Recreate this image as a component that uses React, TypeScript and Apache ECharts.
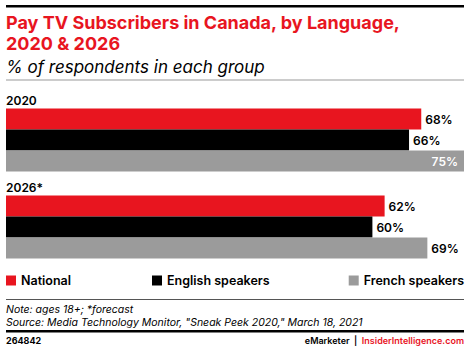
import React, { useEffect, useRef } from "react";
import * as echarts from "echarts";

const categories = ["2020", "2026*"];
const seriesNames = ["National", "English speakers", "French speakers"];
const national = [68, 62];
const english = [66, 60];
const french = [75, 69];
const colors = ["#e8151f", "#000000", "#9b9b9b"];

const FONT = "Inter, 'Noto Sans', Arial, sans-serif";

export default function App() {
  const ref = useRef<HTMLDivElement>(null);
  useEffect(() => {
    if (!ref.current) return;
    const chart = echarts.init(ref.current, null, { renderer: "svg" });
    const values = [national, english, french];
    const series = seriesNames.map((name, si) => ({
      name,
      type: "bar",
      barWidth: 21,
      barGap: "0%",
      itemStyle: { color: colors[si] },
      data: values[si].map((v) => {
        const inside = v >= 75;
        return {
          value: v,
          label: inside
            ? { position: "insideRight", color: "#ffffff", offset: [-2, 0] }
            : { position: "right", color: "#000000" },
        };
      }),
      label: {
        show: true,
        formatter: "{c}%",
        fontFamily: FONT,
        fontWeight: 600,
        fontSize: 12,
        distance: 4,
      },
    }));
    const option: any = {
      animation: false,
      textStyle: { fontFamily: FONT },
      grid: { left: 6, right: 6, top: 96.5, bottom: 80.5, containLabel: false },
      xAxis: { type: "value", min: 0, max: 75, show: false },
      yAxis: {
        type: "category",
        inverse: true,
        data: categories,
        axisLine: { show: false },
        axisTick: { show: false },
        axisLabel: {
          inside: true,
          margin: 0,
          align: "left",
          verticalAlign: "bottom",
          padding: [0, 0, 34, 0],
          color: "#000",
          fontFamily: FONT,
          fontWeight: 600,
          fontSize: 12,
        },
      },
      legend: seriesNames.map((n, i) => ({
        data: [n],
        top: 274,
        ...(i === 0 ? { left: 6 } : i === 1 ? { left: 152 } : { right: 6 }),
        itemWidth: 10,
        itemHeight: 10,
        itemGap: 6,
        icon: "rect",
        padding: 0,
        textStyle: { fontFamily: FONT, fontWeight: 600, fontSize: 12.5, color: "#000" },
        selectedMode: false,
      })),
      series,
      graphic: [
        { type: "rect", shape: { x: 6, y: 5, width: 458, height: 2.5 }, style: { fill: "#000" } },
        {
          type: "text",
          left: 6,
          top: 12,
          style: {
            text: "Pay TV Subscribers in Canada, by Language,\n2020 & 2026",
            fill: "#e8151f",
            font: `bold 18px ${FONT}`,
            lineHeight: 21,
          },
        },
        {
          type: "text",
          left: 6,
          top: 58,
          style: { text: "% of respondents in each group", fill: "#000", font: `italic 17px ${FONT}` },
        },
        { type: "rect", shape: { x: 6, y: 79.5, width: 458, height: 1 }, style: { fill: "#999" } },
        { type: "rect", shape: { x: 6, y: 299, width: 458, height: 1 }, style: { fill: "#555" } },
        {
          type: "text",
          left: 6,
          top: 303,
          style: {
            text: "Note: ages 18+; *forecast\nSource: Media Technology Monitor, \"Sneak Peek 2020,\" March 18, 2021",
            fill: "#000",
            font: `italic 10.5px ${FONT}`,
            lineHeight: 13,
          },
        },
        { type: "rect", shape: { x: 6, y: 330, width: 458, height: 2.5 }, style: { fill: "#000" } },
        {
          type: "text",
          left: 6,
          top: 336,
          style: { text: "264842", fill: "#000", font: `bold 9px ${FONT}` },
        },
        {
          type: "text",
          right: 6,
          top: 336,
          style: {
            text: "{a|eMarketer}{b|  |  }{c|InsiderIntelligence.com}",
            rich: {
              a: { fill: "#000", font: `600 9px ${FONT}` },
              b: { fill: "#000", font: `600 9px ${FONT}` },
              c: { fill: "#e8151f", font: `600 9px ${FONT}` },
            },
          },
        },
      ],
    };
    chart.setOption(option);
    return () => chart.dispose();
  }, []);
  return (
    <div
      ref={ref}
      style={{ position: "fixed", left: 0, top: 0, width: 470, height: 351, background: "#fff" }}
    />
  );
}
